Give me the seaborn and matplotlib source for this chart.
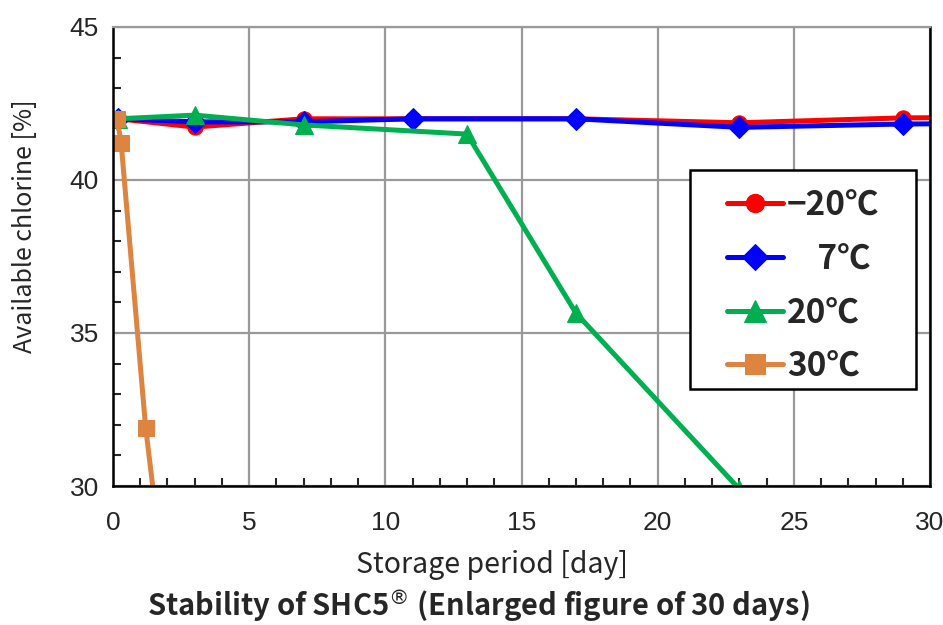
import matplotlib
matplotlib.use("Agg")
import matplotlib.pyplot as plt
import seaborn as sns
import pandas as pd
from matplotlib.ticker import MultipleLocator
from matplotlib.patches import Rectangle

# ---- data ----
days_m20 = [0.2, 3, 7, 11, 17, 23, 29, 33]
vals_m20 = [42.0, 41.73, 42.0, 42.0, 42.0, 41.87, 42.03, 42.05]

days_7 = [0.2, 3, 7, 11, 17, 23, 29, 33]
vals_7 = [42.0, 41.9, 41.9, 42.0, 42.0, 41.72, 41.83, 41.85]

days_20 = [0.2, 3, 7, 13, 17, 23]
vals_20 = [42.0, 42.12, 41.8, 41.5, 35.65, 29.9]

days_30 = [0.15, 0.3, 1.2, 2]
vals_30 = [42.0, 41.2, 31.9, 26.0]

series_labels = ["\u221220\u2103", "    7\u2103", "20\u2103", "30\u2103"]
series_colors = ["#FF0000", "#0000FF", "#00B050", "#DD8440"]
series_markers = ["o", "D", "^", "s"]

x_ticks = [0, 5, 10, 15, 20, 25, 30]
y_ticks = [30, 35, 40, 45]

xlabel = "Storage period [day]"
ylabel = "Available chlorine [%]"
caption = "Stability of SHC5$^{\u00ae}$ (Enlarged figure of 30 days)"

sns.set_style("white")
plt.rcParams['font.family'] = ['Liberation Sans', 'DejaVu Sans']

fig = plt.figure(figsize=(9.43, 6.25), dpi=100)
ax = fig.add_axes([113/943, 1-486/625, 817/943, 459/625])

all_days = [days_m20, days_7, days_20, days_30]
all_vals = [vals_m20, vals_7, vals_20, vals_30]
msizes = [11, 11, 13, 12]
for d, v, lab, c, m, ms in zip(all_days, all_vals, series_labels, series_colors, series_markers, msizes):
    df = pd.DataFrame({"day": d, "val": v})
    sns.lineplot(data=df, x="day", y="val", ax=ax, color=c, marker=m, markersize=ms,
                 markeredgecolor=c, linewidth=3.6, label=lab, sort=False)

ax.set_xlim(0, 30)
ax.set_ylim(30, 45)
ax.set_xticks(x_ticks)
ax.set_yticks(y_ticks)
ax.xaxis.set_minor_locator(MultipleLocator(1))
ax.yaxis.set_minor_locator(MultipleLocator(1))
ax.grid(True, which="major", color="#999999", linewidth=1.6)
ax.set_axisbelow(True)
for s in ax.spines.values():
    s.set_visible(True)
    s.set_color("black")
    s.set_linewidth(1.8)
ax.spines['top'].set_color("#999999")
ax.spines['top'].set_linewidth(1.6)
ax.tick_params(axis="both", which="major", direction="in", length=0, labelsize=19)
ax.tick_params(axis="x", which="major", pad=18)
ax.tick_params(axis="y", which="major", pad=10)
ax.tick_params(axis="y", which="minor", direction="in", length=6, width=1.5, left=True)
ax.tick_params(axis="x", which="minor", direction="in", length=6, width=1.5, bottom=True)

ax.set_xlabel(xlabel, fontsize=20.5, family=['Noto Sans CJK JP', 'DejaVu Sans'])
ax.xaxis.set_label_coords((492-113)/817, (486-565)/459)
ax.xaxis.label.set_va("center")
ax.set_ylabel(ylabel, fontsize=18, family=['Noto Sans CJK JP', 'DejaVu Sans'])
ax.yaxis.set_label_coords((25-113)/817, (486-226)/459)
ax.yaxis.label.set_va("center")

# legend frame drawn as a patch (box in reference: x 690-916, y 170-389 px)
frame = Rectangle(((690-113)/817, (486-389)/459), 226/817, 219/459, transform=ax.transAxes,
                  facecolor="white", edgecolor="black", linewidth=1.8, zorder=5, clip_on=False)
ax.add_patch(frame)
leg = ax.legend(loc="center", bbox_to_anchor=((803-113)/817, (486-286)/459),
                frameon=False,
                prop={'family': ['Noto Sans CJK JP', 'DejaVu Sans'], 'size': 24, 'weight': 'bold'},
                handlelength=1.7, labelspacing=0.62, borderpad=0.0, handletextpad=0.1,
                borderaxespad=0, markerscale=1.2)
leg.set_zorder(6)

fig.text(478/943, 1-607/625, caption, ha="center", va="center", fontsize=21, fontweight="bold",
         family=['Noto Sans CJK JP', 'DejaVu Sans'])

fig.savefig("out.png", dpi=100)
